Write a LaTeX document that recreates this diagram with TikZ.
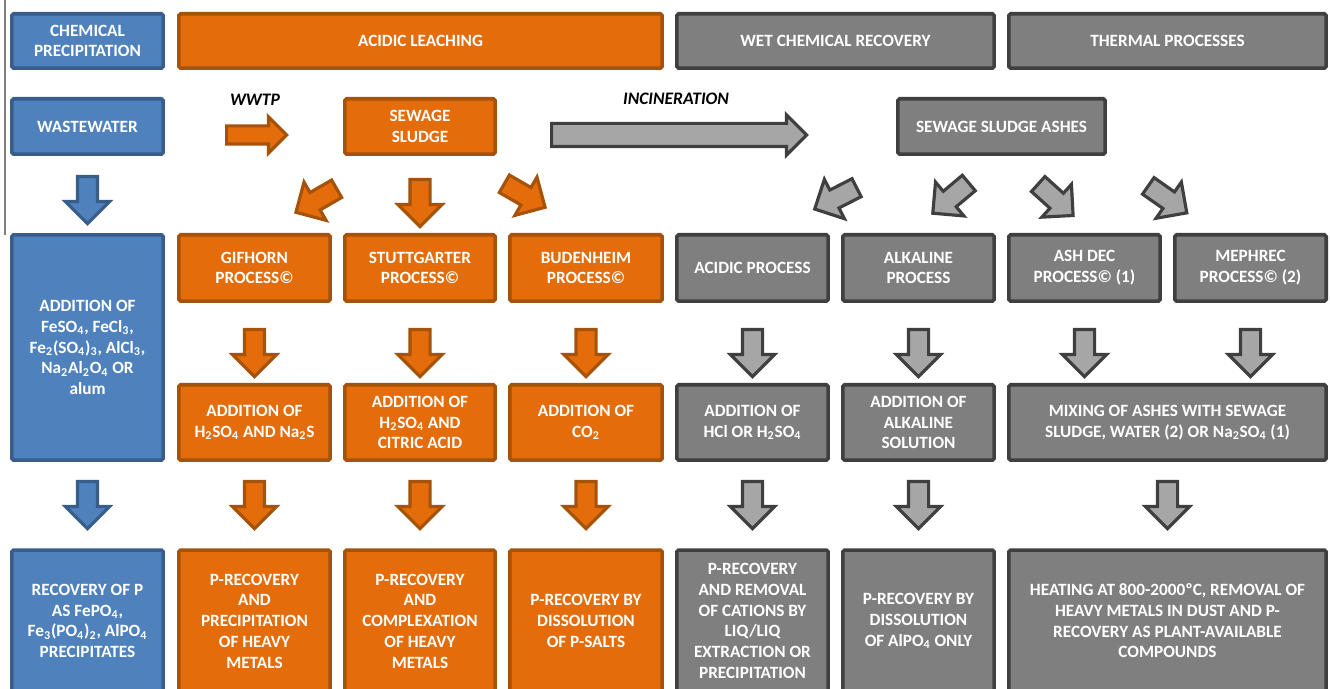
\documentclass[tikz,border=0pt]{standalone}
\usepackage{fontspec}
\setmainfont{Carlito}
\usetikzlibrary{shapes,arrows,positioning}

\definecolor{bluefill}{HTML}{4F81BD}
\definecolor{blueline}{HTML}{385D8A}
\definecolor{orangefill}{HTML}{E46C0A}
\definecolor{orangeline}{HTML}{A5520A}
\definecolor{greyfill}{HTML}{7F7F7F}
\definecolor{greyline}{HTML}{3F3F3F}
\definecolor{greyarrow}{HTML}{A6A6A6}

\begin{document}
\begin{tikzpicture}[x=0.02cm, y=-0.02cm,
  box/.style={draw, line width=2pt, rounded corners=1pt, align=center, text=white,
    font=\fontsize{9.8}{11.8}\selectfont\bfseries, inner sep=1pt},
  bluebox/.style={box, fill=bluefill, draw=blueline},
  orangebox/.style={box, fill=orangefill, draw=orangeline},
  greybox/.style={box, fill=greyfill, draw=greyline},
  blockarr/.style={single arrow, draw, line width=1.8pt, anchor=tail, inner xsep=0pt,
    inner ysep=0.17cm, minimum height=0.94cm, single arrow head extend=0.24cm,
    single arrow tip angle=90},
  bluearr/.style={blockarr, fill=bluefill, draw=blueline},
  orangearr/.style={blockarr, fill=orangefill, draw=orangeline},
  greyarr/.style={blockarr, fill=greyarrow, draw=greyline},
  flowlabel/.style={font=\fontsize{10}{12}\selectfont\bfseries\itshape}
]
\path[use as bounding box, clip] (0,0) rectangle (1330,689);

% Left edge line
\draw[greyfill, line width=0.8pt] (5,0) -- (5,235);

% Header row
\node[bluebox, minimum width=3.03cm, minimum height=1.09cm] (chem) at (87.5,41) {CHEMICAL\\PRECIPITATION};
\node[orangebox, minimum width=9.67cm, minimum height=1.09cm] (leach) at (420.5,41) {ACIDIC LEACHING};
\node[greybox, minimum width=6.35cm, minimum height=1.09cm] (wet) at (835.5,41) {WET CHEMICAL RECOVERY};
\node[greybox, minimum width=6.35cm, minimum height=1.09cm] (thermal) at (1167.5,41) {THERMAL PROCESSES};

% Sources
\node[bluebox, minimum width=3.03cm, minimum height=1.11cm] (water) at (87.5,126.5) {WASTEWATER};
\node[orangebox, minimum width=3.01cm, minimum height=1.11cm] (sludge) at (420,126.5) {SEWAGE\\SLUDGE};
\node[greybox, minimum width=4.15cm, minimum height=1.11cm] (ashes) at (1001.5,126.5) {SEWAGE SLUDGE ASHES};

% Transfer labels and arrows
\node[flowlabel] (wwtp) at (255,100) {WWTP};
\node[flowlabel] (incin) at (676,99) {INCINERATION};
\node[orangearr, minimum height=1.2cm, inner ysep=0.15cm, single arrow head extend=0.18cm] (wwtparr) at (225,135) {};
\node[greyarr, minimum height=5.1cm, inner ysep=0.2cm, single arrow head extend=0.17cm] (incinarr) at (550,135) {};

% Arrows to processes
\node[bluearr, rotate=-90] (b1) at (87.5,175) {};
\node[orangearr, rotate=210] (o1) at (338,188) {};
\node[orangearr, rotate=-90] (o2) at (420,178) {};
\node[orangearr, rotate=-30] (o3) at (503,183) {};
\node[greyarr, rotate=207] (g1) at (858,187) {};
\node[greyarr, rotate=220] (g2) at (970,182) {};
\node[greyarr, rotate=-42] (g3) at (1037,183) {};
\node[greyarr, rotate=-35] (g4) at (1147,185) {};

% Processes
\node[bluebox, minimum width=3.03cm, minimum height=4.51cm] (addfe) at (87.5,347.5)
  {ADDITION OF\\FeSO\textsubscript{4}, FeCl\textsubscript{3},\\Fe\textsubscript{2}(SO\textsubscript{4})\textsubscript{3}, AlCl\textsubscript{3},\\Na\textsubscript{2}Al\textsubscript{2}O\textsubscript{4} OR\\alum};
\node[orangebox, minimum width=3.03cm, minimum height=1.33cm] (gif) at (254.5,268) {GIFHORN\\PROCESS©};
\node[orangebox, minimum width=3.01cm, minimum height=1.33cm] (stutt) at (420,268) {STUTTGARTER\\PROCESS©};
\node[orangebox, minimum width=3.05cm, minimum height=1.33cm] (buden) at (586,268) {BUDENHEIM\\PROCESS©};
\node[greybox, minimum width=3.03cm, minimum height=1.33cm] (acidp) at (752.5,268) {ACIDIC PROCESS};
\node[greybox, minimum width=3.03cm, minimum height=1.33cm] (alkp) at (918.5,268) {ALKALINE\\PROCESS};
\node[greybox, minimum width=3.03cm, minimum height=1.33cm] (ashdec) at (1084.5,268) {ASH DEC\\PROCESS© (1)};
\node[greybox, minimum width=3.03cm, minimum height=1.33cm] (mephrec) at (1250.5,268) {MEPHREC\\PROCESS© (2)};

% Arrows to additions
\node[orangearr, rotate=-90] (o4) at (254.5,328) {};
\node[orangearr, rotate=-90] (o5) at (420,328) {};
\node[orangearr, rotate=-90] (o6) at (586,328) {};
\node[greyarr, rotate=-90] (g5) at (752.5,328) {};
\node[greyarr, rotate=-90] (g6) at (918.5,328) {};
\node[greyarr, rotate=-90] (g7) at (1084.5,328) {};
\node[greyarr, rotate=-90] (g8) at (1250.5,328) {};

% Additions
\node[orangebox, minimum width=3.03cm, minimum height=1.51cm] (gifadd) at (254.5,422.5) {ADDITION OF\\H\textsubscript{2}SO\textsubscript{4} AND Na\textsubscript{2}S};
\node[orangebox, minimum width=3.01cm, minimum height=1.51cm] (stuttadd) at (420,422.5) {ADDITION OF\\H\textsubscript{2}SO\textsubscript{4} AND\\CITRIC ACID};
\node[orangebox, minimum width=3.05cm, minimum height=1.51cm] (budenadd) at (586,422.5) {ADDITION OF\\CO\textsubscript{2}};
\node[greybox, minimum width=3.03cm, minimum height=1.51cm] (acidadd) at (752.5,422.5) {ADDITION OF\\HCl OR H\textsubscript{2}SO\textsubscript{4}};
\node[greybox, minimum width=3.03cm, minimum height=1.51cm] (alkadd) at (918.5,422.5) {ADDITION OF\\ALKALINE\\SOLUTION};
\node[greybox, minimum width=6.35cm, minimum height=1.51cm] (mixing) at (1167.5,422.5) {MIXING OF ASHES WITH SEWAGE\\SLUDGE, WATER (2) OR Na\textsubscript{2}SO\textsubscript{4} (1)};

% Arrows to results
\node[bluearr, rotate=-90] (b2) at (87.5,480) {};
\node[orangearr, rotate=-90] (o7) at (254.5,480) {};
\node[orangearr, rotate=-90] (o8) at (420,480) {};
\node[orangearr, rotate=-90] (o9) at (586,480) {};
\node[greyarr, rotate=-90] (g9) at (752.5,480) {};
\node[greyarr, rotate=-90] (g10) at (918.5,480) {};
\node[greyarr, rotate=-90] (g11) at (1167.5,480) {};

% Results
\node[bluebox, minimum width=3.03cm, minimum height=2.84cm] (chemres) at (87.5,621)
  {RECOVERY OF P\\AS FePO\textsubscript{4},\\Fe\textsubscript{3}(PO\textsubscript{4})\textsubscript{2}, AlPO\textsubscript{4}\\PRECIPITATES};
\node[orangebox, minimum width=3.03cm, minimum height=2.84cm] (gifres) at (254.5,621) {P-RECOVERY\\AND\\PRECIPITATION\\OF HEAVY\\METALS};
\node[orangebox, minimum width=3.01cm, minimum height=2.84cm] (stuttres) at (420,621) {P-RECOVERY\\AND\\COMPLEXATION\\OF HEAVY\\METALS};
\node[orangebox, minimum width=3.05cm, minimum height=2.84cm] (budenres) at (586,621) {P-RECOVERY BY\\DISSOLUTION\\OF P-SALTS};
\node[greybox, minimum width=3.03cm, minimum height=2.84cm] (acidres) at (752.5,621) {P-RECOVERY\\AND REMOVAL\\OF CATIONS BY\\LIQ/LIQ\\EXTRACTION OR\\PRECIPITATION};
\node[greybox, minimum width=3.03cm, minimum height=2.84cm] (alkres) at (918.5,621) {P-RECOVERY BY\\DISSOLUTION\\OF AlPO\textsubscript{4} ONLY};
\node[greybox, minimum width=6.35cm, minimum height=2.84cm] (thermres) at (1167.5,621) {HEATING AT 800-2000ºC, REMOVAL OF\\HEAVY METALS IN DUST AND P-\\RECOVERY AS PLANT-AVAILABLE\\COMPOUNDS};

\end{tikzpicture}
\end{document}
